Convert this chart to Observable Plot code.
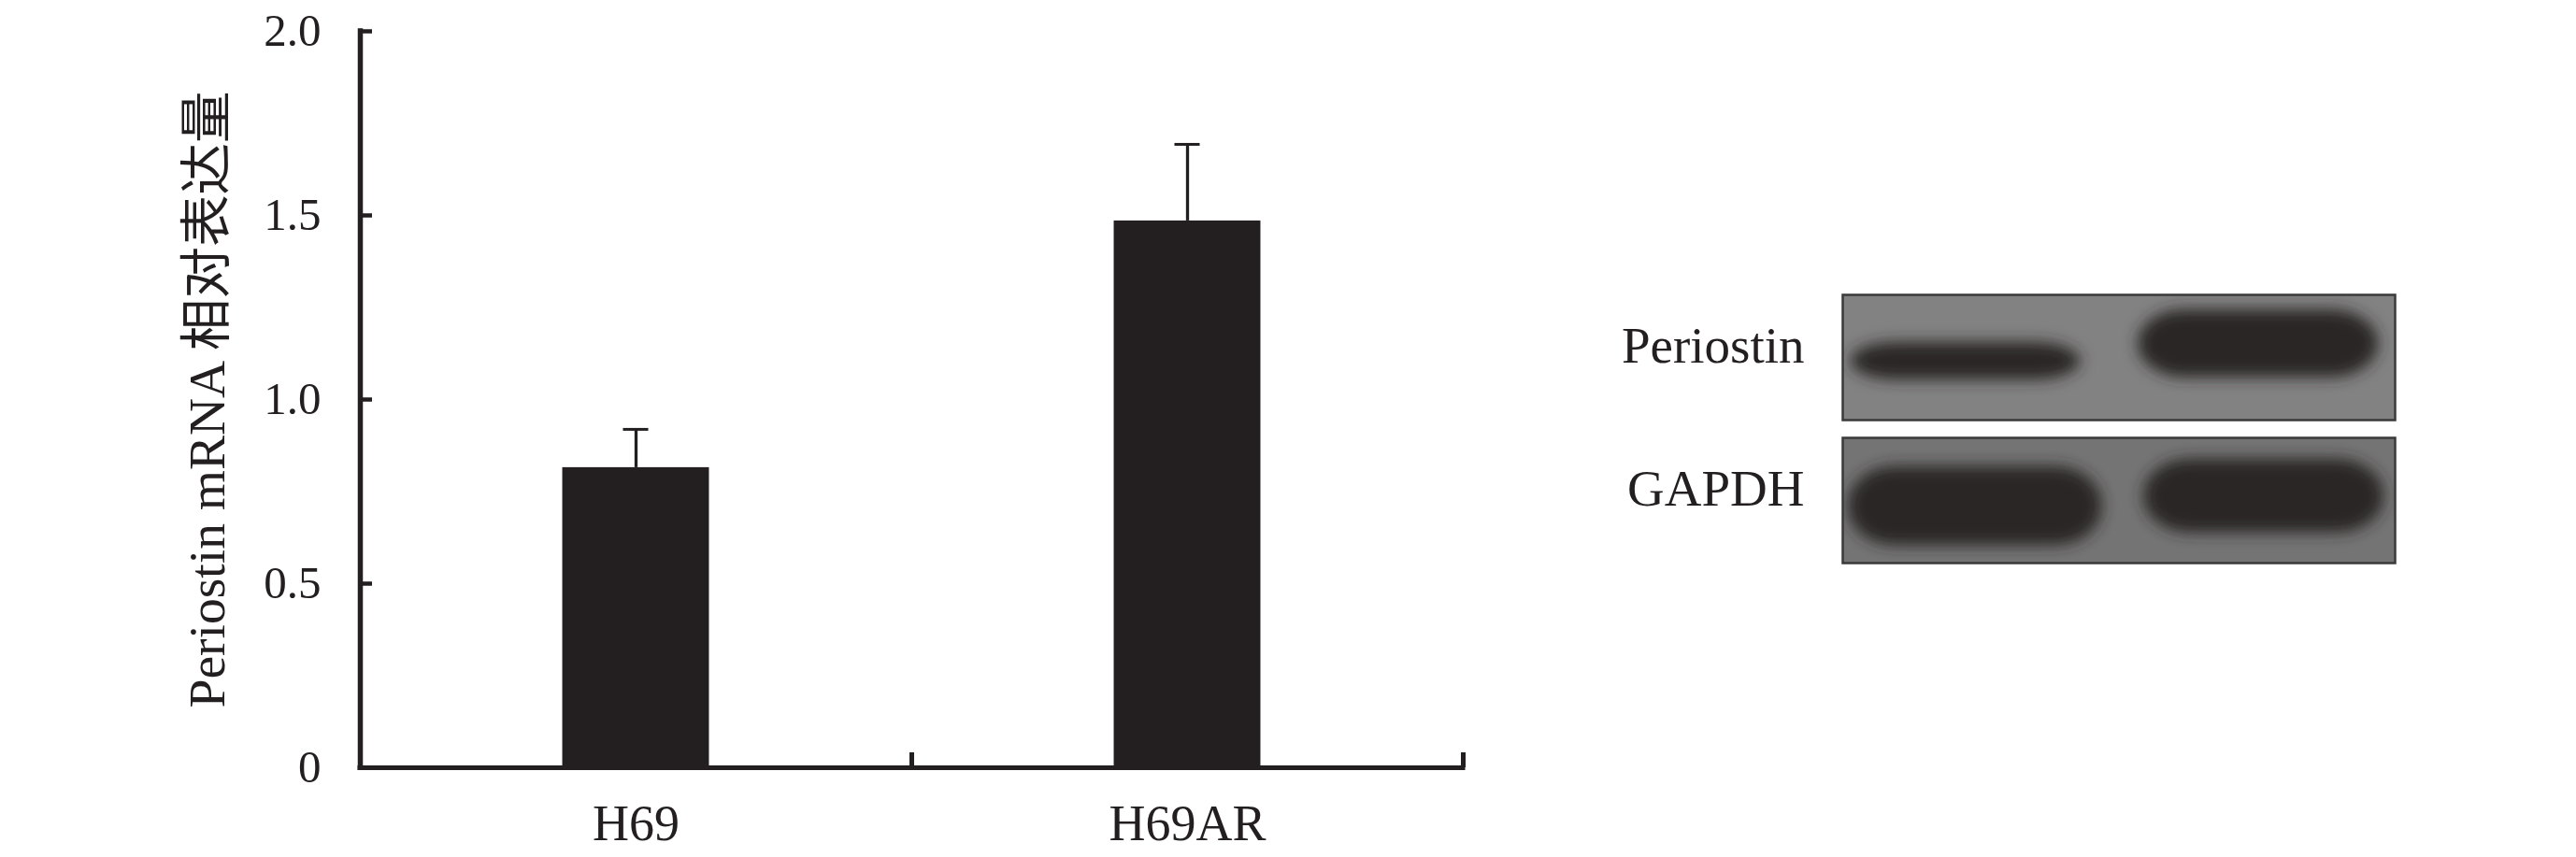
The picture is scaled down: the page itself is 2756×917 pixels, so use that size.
<!DOCTYPE html>
<html><head><meta charset="utf-8">
<script src="https://cdn.jsdelivr.net/npm/d3@7"></script>
<script src="https://cdn.jsdelivr.net/npm/@observablehq/plot@0.6"></script>
<style>
html,body{margin:0;padding:0;background:#fff;}
#wrap{position:relative;width:2756px;height:917px;overflow:hidden;background:#fff;}
#wrap svg{position:absolute;top:0;}
</style></head><body><div id="wrap"></div>
<script>
// ---- bar chart data ----
const groups = ["H69", "H69AR"];
const means = [0.815, 1.485];
const sds = [0.104, 0.208];
const yTicks = [0, 0.5, 1.0, 1.5, 2.0];
const yTickLabels = ["0", "0.5", "1.0", "1.5", "2.0"];
const yTitle = "Periostin mRNA 相对表达量";

// ---- western blot data (band extents) ----
const lanes = ["H69", "H69AR"];
const proteins = ["Periostin", "GAPDH"];
const bandProtein = ["Periostin", "Periostin", "GAPDH", "GAPDH"];
const bandLane = ["H69", "H69AR", "H69", "H69AR"];
const bandLeft = [0.03, 1.07, 0.02, 1.09];
const bandRight = [0.86, 1.94, 0.94, 1.96];
const bandTop = [0.38, 0.12, 0.23, 0.17];
const bandBottom = [0.68, 0.66, 0.86, 0.76];

const ink = "#231f20";
const serif = "'Liberation Serif','Times New Roman','Noto Sans CJK SC',serif";

const barData = groups.map((g, i) => ({group: g, pos: i + 0.5, mean: means[i], sd: sds[i]}));
const barHalf = 0.133, capHalf = 0.0229;

const left = Plot.plot({
  width: 1620, height: 917,
  marginLeft: 385, marginRight: 55, marginTop: 33, marginBottom: 96,
  x: {domain: [0, 2]},
  y: {domain: [0, 2]},
  style: {fontFamily: serif, color: ink, background: "transparent", overflow: "visible"},
  marks: [
    Plot.rectY(barData, {x1: d => d.pos - barHalf, x2: d => d.pos + barHalf, y: "mean", fill: ink}),
    Plot.ruleX(barData, {x: "pos", y1: "mean", y2: d => d.mean + d.sd, stroke: ink, strokeWidth: 3.3}),
    Plot.ruleY(barData, {y: d => d.mean + d.sd, x1: d => d.pos - capHalf, x2: d => d.pos + capHalf, stroke: ink, strokeWidth: 3}),
    Plot.axisY({ticks: yTicks, tickFormat: d => yTickLabels[yTicks.indexOf(d)], tickSize: -13, tickPadding: 55, strokeWidth: 4.5, fontSize: 49, label: null}),
    Plot.axisX({ticks: [1, 2], tickSize: -16, tickFormat: () => "", strokeWidth: 5, label: null}),
    Plot.axisX({ticks: [0.5, 1.5], tickSize: 0, tickPadding: 39, tickFormat: d => groups[Math.floor(d)], fontSize: 54, label: null}),
    Plot.ruleX([0], {y1: 0, y2: 2, stroke: ink, strokeWidth: 5.5, strokeLinecap: "square"}),
    Plot.ruleY([0], {x1: 0, x2: 2, stroke: ink, strokeWidth: 5, strokeLinecap: "square"}),
    Plot.text([yTitle], {frameAnchor: "left", textAnchor: "middle", rotate: -90, dx: -163, fontSize: 55.5, fill: ink, lineAnchor: "middle"})
  ]
});
left.style.left = "0px";

const bands = bandProtein.map((p, i) => ({protein: p, lane: bandLane[i], x1: bandLeft[i], x2: bandRight[i], y1: bandTop[i], y2: bandBottom[i]}));
const bandInk = "#2a2627";

const right = Plot.plot({
  width: 1136, height: 917,
  marginLeft: 351, marginRight: 194, marginTop: 314, marginBottom: 314,
  x: {domain: [0, 2], axis: null},
  y: {domain: [0, 1], reverse: true, axis: null},
  fy: {domain: proteins, paddingInner: 0.123, paddingOuter: 0},
  color: {type: "identity"},
  style: {fontFamily: serif, color: ink, background: "transparent", overflow: "visible"},
  marks: [
    Plot.rect(proteins, {fy: d => d, x1: 0, x2: 2, y1: 0, y2: 1, fill: d => d === "Periostin" ? "#828282" : "#747474"}),
    Plot.rect(bands, {fy: "protein", x1: "x1", x2: "x2", y1: "y1", y2: "y2", fill: bandInk, rx: 50, clip: true}),
    Plot.frame({stroke: "#3a3a3a", strokeWidth: 2.5}),
    Plot.axisFy({anchor: "left", tickSize: 0, tickPadding: 41, fontSize: 55, dy: -12, label: null})
  ]
});
right.style.left = "1620px";

const svgR = d3.select(right);
const f = svgR.insert("defs", ":first-child").append("filter").attr("id", "blotblur")
  .attr("filterUnits", "userSpaceOnUse")
  .attr("x", -50).attr("y", -50).attr("width", 1300).attr("height", 1000);
f.append("feGaussianBlur").attr("stdDeviation", 8);
svgR.selectAll("g").filter(function() { return this.getAttribute("fill") === bandInk; })
  .attr("filter", "url(#blotblur)");

document.getElementById("wrap").append(left, right);
</script></body></html>
